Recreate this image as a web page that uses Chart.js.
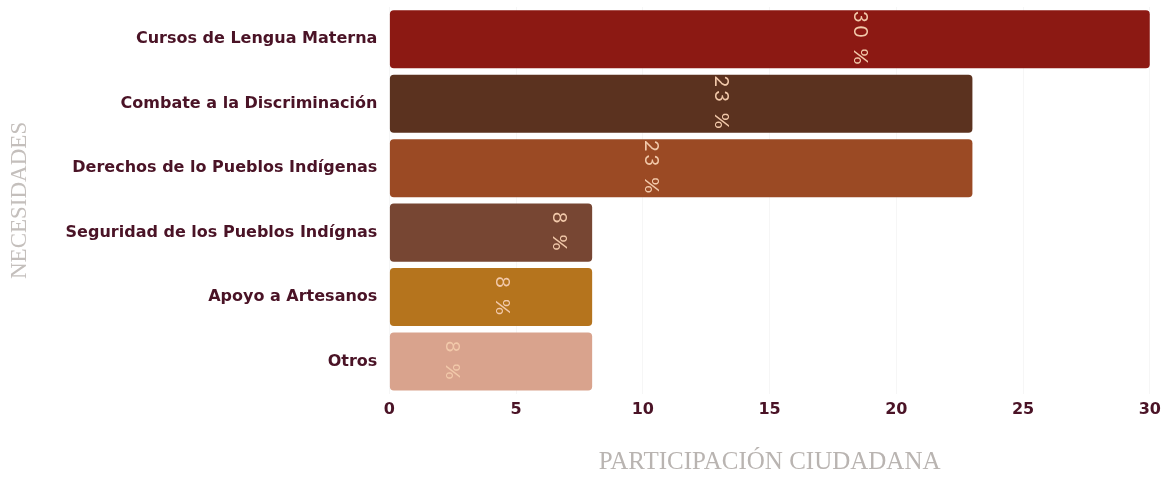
<!DOCTYPE html>
<html>
<head>
<meta charset="utf-8">
<script src="https://cdn.jsdelivr.net/npm/chart.js@4"></script>
<style>
  html, body { margin: 0; padding: 0; background: #ffffff; }
  #wrap { width: 1167px; height: 477px; }
</style>
</head>
<body>
<div id="wrap"><canvas id="chartBar"></canvas></div>
<script>
const necesidades = [
  "Cursos de Lengua Materna",
  "Combate a la Discriminación",
  "Derechos de lo Pueblos Indígenas",
  "Seguridad de los Pueblos Indígnas",
  "Apoyo a Artesanos",
  "Otros"
];
const participacion = [30, 23, 23, 8, 8, 8];
const xTicks = [0, 5, 10, 15, 20, 25, 30];

const colores = ['#8c1913', '#5b321f', '#9b4a24', '#774633', '#b5741d', '#d9a38d'];

// where the rotated % label sits along each bar (fraction of bar length)
const labelFrac = [0.62, 0.57, 0.45, 0.84, 0.56, 0.31];

const rotatedLabels = {
  id: 'rotatedLabels',
  afterDatasetsDraw(chart) {
    const ctx = chart.ctx;
    const meta = chart.getDatasetMeta(0);
    const xScale = chart.scales.x;
    ctx.save();
    ctx.fillStyle = '#f2c9aa';
    ctx.font = '400 20px Lato';
    ctx.textAlign = 'center';
    ctx.textBaseline = 'middle';
    if ('letterSpacing' in ctx) ctx.letterSpacing = '3px';
    meta.data.forEach((bar, i) => {
      const v = participacion[i];
      const x = xScale.getPixelForValue(v * labelFrac[i]);
      ctx.save();
      ctx.translate(x, bar.y);
      ctx.rotate(Math.PI / 2);
      ctx.fillText(v + ' %', 0, 0);
      ctx.restore();
    });
    ctx.restore();
  }
};

const ctxBar = document.getElementById("chartBar").getContext("2d");

new Chart(ctxBar, {
  type: "bar",
  data: {
    labels: necesidades,
    datasets: [
      {
        label: "Participación",
        data: participacion,
        backgroundColor: colores,
        borderRadius: 4,
        borderSkipped: false,
        barPercentage: 0.9,
        categoryPercentage: 1.0,
      },
    ],
  },
  options: {
    indexAxis: 'y',
    responsive: true,
    maintainAspectRatio: false,
    animation: false,
    layout: { padding: { top: 7, right: 10, left: 6, bottom: 0 } },
    plugins: {
      legend: { display: false },
      tooltip: { enabled: false },
    },
    scales: {
      x: {
        min: 0,
        max: 30,
        afterBuildTicks(axis) {
          axis.ticks = xTicks.map(v => ({ value: v }));
        },
        grid: { color: 'rgba(0,0,0,0.035)', drawTicks: false },
        border: { display: false },
        ticks: {
          color: '#4a1326',
          padding: 6,
          font: { family: 'DejaVu Sans', size: 16, weight: 'bold' },
        },
        title: {
          display: true,
          text: 'PARTICIPACIÓN CIUDADANA',
          color: '#b9b4b1',
          font: { family: 'Liberation Serif', size: 25 },
          padding: { top: 22, bottom: 0 },
        },
      },
      y: {
        afterFit(scale) {
          scale.paddingTop = 0;
          scale.paddingBottom = 0;
        },
        grid: { display: false, drawTicks: false },
        border: { display: false },
        ticks: {
          color: '#4a1326',
          padding: 12,
          font: { family: 'DejaVu Sans', size: 16, weight: 'bold' },
        },
        title: {
          display: true,
          text: 'NECESIDADES',
          color: '#c4bfbc',
          font: { family: 'Liberation Serif', size: 23 },
          padding: { top: 0, bottom: 20 },
        },
      },
    },
  },
  plugins: [rotatedLabels],
});
</script>
</body>
</html>
